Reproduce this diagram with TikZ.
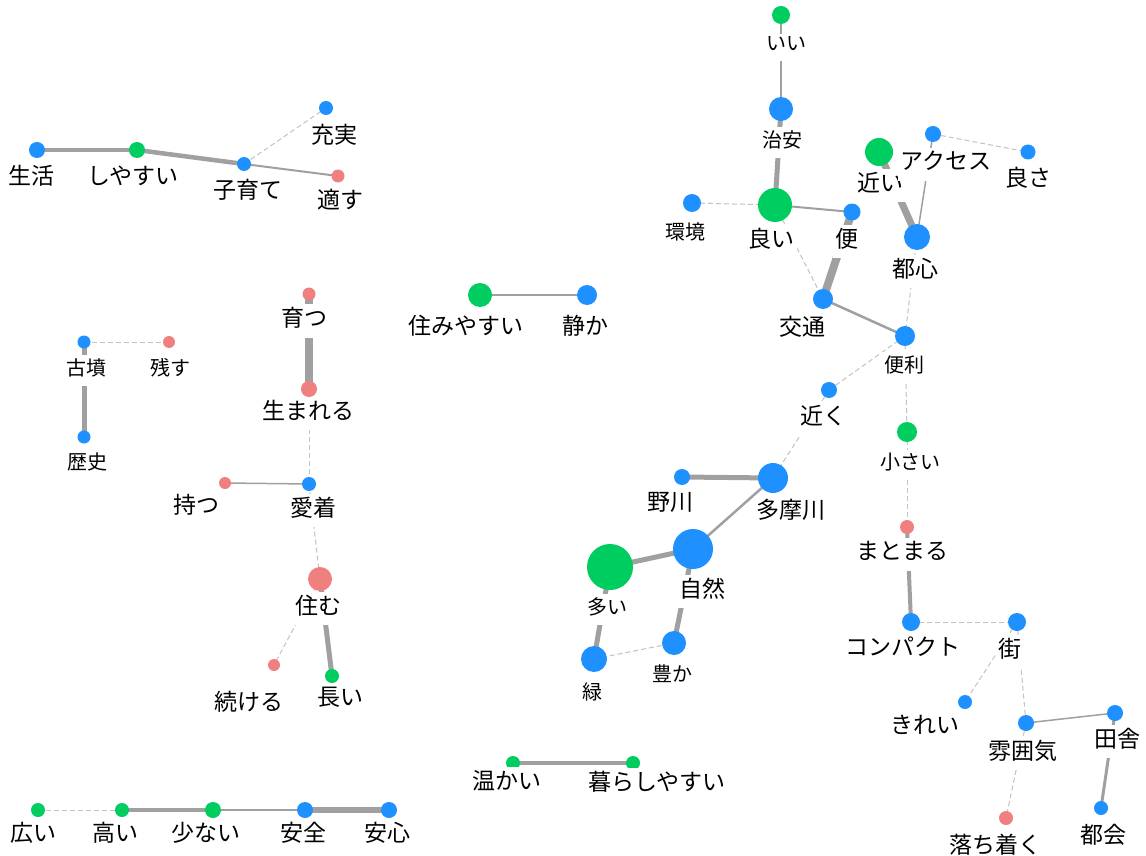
\documentclass[tikz,border=0pt]{standalone}
\usepackage{fontspec}
\setmainfont{Noto Sans CJK JP}
\definecolor{nblue}{RGB}{30,144,255}
\definecolor{ngreen}{RGB}{0,205,96}
\definecolor{nred}{RGB}{240,128,128}
\definecolor{egray}{RGB}{160,160,160}
\definecolor{dgray}{RGB}{195,195,195}
\pgfdeclarelayer{bg}
\pgfdeclarelayer{paper}
\pgfsetlayers{paper,bg,main}
\tikzset{
  dot/.style={circle, inner sep=0pt, draw=none, minimum size=#1},
  B/.style={dot=#1, fill=nblue},
  G/.style={dot=#1, fill=ngreen},
  R/.style={dot=#1, fill=nred},
  lab/.style={fill=white, inner xsep=3pt, inner ysep=3pt, text depth=7.8pt, yshift=-2.5pt, font=\fontsize{23}{23}\selectfont},
  slab/.style={fill=white, inner xsep=3pt, inner ysep=3pt, text depth=7.4pt, yshift=-2.5pt, font=\fontsize{20}{20}\selectfont},
  ln/.style={draw=egray, line width=#1},
  dl/.style={draw=dgray, line width=1pt, dash pattern=on 5pt off 3pt},
}
\begin{document}
\begin{tikzpicture}[x=1pt,y=-1pt]
\begin{pgfonlayer}{paper}
\fill[white] (0,0) rectangle (1146,856);
\end{pgfonlayer}
\useasboundingbox (0,0) rectangle (1146,856);
% ---- circles ----
\node[B=16] (shenghuo) at (37,150) {};
\node[G=16] (shiyasui) at (137,150) {};
\node[B=14] (kosodate) at (244,164) {};
\node[B=14] (juujitsu) at (326,108) {};
\node[R=13] (tekisu) at (338,176) {};

\node[G=18] (ii) at (781,15) {};
\node[B=24] (chian) at (781,109) {};
\node[G=34] (yoi) at (775,205) {};
\node[B=18] (kankyo) at (692,203) {};
\node[B=17] (ben) at (852,212) {};
\node[G=28] (chikai) at (879,152) {};
\node[B=16] (access) at (933,134) {};
\node[B=15] (yosa) at (1028,152) {};
\node[B=26] (toshin) at (917,237) {};
\node[B=20] (koutsuu) at (823,299) {};
\node[B=20] (benri) at (905,336) {};
\node[B=16] (chikaku) at (829,390) {};
\node[G=20] (chiisai) at (907,432) {};
\node[R=14] (matomaru) at (907,527) {};
\node[B=30] (tamagawa) at (773,478) {};
\node[B=16] (nogawa) at (682,477) {};
\node[B=40] (shizen) at (693,549) {};
\node[G=46] (ooi) at (610,567) {};
\node[B=26] (midori) at (594,659) {};
\node[B=24] (yutaka) at (674,643) {};
\node[B=18] (compact) at (911,622) {};
\node[B=18] (machi) at (1017,622) {};
\node[B=14] (kirei) at (965,702) {};
\node[B=16] (funiki) at (1026,723) {};
\node[B=16] (inaka) at (1115,713) {};
\node[B=14] (tokai) at (1101,808) {};
\node[R=14] (ochitsuku) at (1006,818) {};

\node[B=13] (kofun) at (84,342) {};
\node[R=12] (nokosu) at (169,342) {};
\node[B=13] (rekishi) at (84,437) {};

\node[R=13] (sodatsu) at (309,294) {};
\node[R=16] (umareru) at (309,389) {};
\node[R=12] (motsu) at (225,483) {};
\node[B=14] (aichaku) at (309,484) {};
\node[R=24] (sumu) at (320,579) {};
\node[R=12] (tsuzukeru) at (274,665) {};
\node[G=14] (nagai) at (332,676) {};

\node[G=24] (sumiyasui) at (480,295) {};
\node[B=20] (shizuka) at (587,295) {};

\node[G=14] (atatakai) at (513,763) {};
\node[G=14] (kurashi) at (633,763) {};

\node[G=14] (hiroi) at (38,810) {};
\node[G=14] (takai) at (122,810) {};
\node[G=16] (sukunai) at (213,810) {};
\node[B=16] (anzen) at (305,810) {};
\node[B=16] (anshin) at (389,810) {};

% ---- labels ----
\node[lab] (shenghuoL) at (32,176) {生活};
\node[lab] (shiyasuiL) at (133,177) {しやすい};
\node[lab] (kosodateL) at (248,190) {子育て};
\node[lab] (juujitsuL) at (334,135) {充実};
\node[lab] (tekisuL) at (340,200) {適す};

\node[slab] (iiL) at (786,45) {いい};
\node[slab] (chianL) at (782,140) {治安};
\node[lab] (yoiL) at (771,239) {良い};
\node[slab] (kankyoL) at (685,232) {環境};
\node[lab] (benL) at (847,239) {便};
\node[lab] (chikaiL) at (880,183) {近い};
\node[lab] (accessL) at (946,162) {アクセス};
\node[lab] (yosaL) at (1028,178) {良さ};
\node[lab] (toshinL) at (915,269) {都心};
\node[lab] (koutsuuL) at (802,327) {交通};
\node[slab] (benriL) at (904,365) {便利};
\node[lab] (chikakuL) at (823,416) {近く};
\node[slab] (chiisaiL) at (910,462) {小さい};
\node[lab] (matomaruL) at (902,552) {まとまる};
\node[lab] (tamagawaL) at (791,510) {多摩川};
\node[lab] (nogawaL) at (670,503) {野川};
\node[lab] (shizenL) at (702,589) {自然};
\node[slab] (ooiL) at (607,607) {多い};
\node[slab] (midoriL) at (592,692) {緑};
\node[slab] (yutakaL) at (672,674) {豊か};
\node[lab] (compactL) at (903,648) {コンパクト};
\node[lab] (machiL) at (1010,649) {街};
\node[lab] (kireiL) at (925,726) {きれい};
\node[lab] (funikiL) at (1023,751) {雰囲気};
\node[lab] (inakaL) at (1117,739) {田舎};
\node[lab] (tokaiL) at (1103,835) {都会};
\node[lab] (ochitsukuL) at (995,845) {落ち着く};

\node[slab] (kofunL) at (86,368) {古墳};
\node[slab] (nokosuL) at (170,368) {残す};
\node[slab] (rekishiL) at (87,462) {歴史};

\node[lab] (sodatsuL) at (304,318.5) {育つ};
\node[lab] (umareruL) at (308,411) {生まれる};
\node[lab] (motsuL) at (196,505) {持つ};
\node[lab] (aichakuL) at (313,508) {愛着};
\node[lab] (sumuL) at (318,606) {住む};
\node[lab] (tsuzukeruL) at (249,702) {続ける};
\node[lab] (nagaiL) at (340,698) {長い};

\node[lab] (sumiyasuiL) at (466,326) {住みやすい};
\node[lab] (shizukaL) at (585,326) {静か};

\node[lab] (atatakaiL) at (507,781) {温かい};
\node[lab] (kurashiL) at (657,782) {暮らしやすい};

\node[lab] (hiroiL) at (33,833) {広い};
\node[lab] (takaiL) at (115,833) {高い};
\node[lab] (sukunaiL) at (206,833) {少ない};
\node[lab] (anzenL) at (303,833) {安全};
\node[lab] (anshinL) at (387,833) {安心};

% ---- edges ----
\begin{pgfonlayer}{bg}
\draw[ln=4] (shenghuo.center) -- (shiyasui.center);
\draw[ln=4.5] (shiyasui.center) -- (kosodate.center);
\draw[ln=2] (kosodate.center) -- (tekisu.center);
\draw[dl] (kosodate.center) -- (juujitsu.center);

\draw[ln=2.5] (ii.center) -- (chian.center);
\draw[ln=5] (chian.center) -- (yoi.center);
\draw[dl] (kankyo.center) -- (yoi.center);
\draw[ln=2] (yoi.center) -- (ben.center);
\draw[dl] (yoi.center) -- (koutsuu.center);
\draw[ln=8] (ben.center) -- (koutsuu.center);
\draw[ln=7] (chikai.center) -- (toshin.center);
\draw[dl] (access.center) -- (yosa.center);
\draw[ln=1.5] (access.center) -- (toshin.center);
\draw[dl] (toshin.center) -- (benri.center);
\draw[ln=2.5] (koutsuu.center) -- (benri.center);
\draw[dl] (benri.center) -- (chikaku.center);
\draw[dl] (benri.center) -- (chiisai.center);
\draw[dl] (chiisai.center) -- (matomaru.center);
\draw[dl] (chikaku.center) -- (tamagawa.center);
\draw[ln=5] (nogawa.center) -- (tamagawa.center);
\draw[ln=2.5] (tamagawa.center) -- (shizen.center);
\draw[ln=5] (shizen.center) -- (ooi.center);
\draw[ln=5] (ooi.center) -- (midori.center);
\draw[ln=5] (shizen.center) -- (yutaka.center);
\draw[dl] (midori.center) -- (yutaka.center);
\draw[ln=4] (matomaru.center) -- (compact.center);
\draw[dl] (compact.center) -- (machi.center);
\draw[dl] (machi.center) -- (kirei.center);
\draw[dl] (machi.center) -- (funiki.center);
\draw[ln=1.5] (funiki.center) -- (inaka.center);
\draw[ln=3] (inaka.center) -- (tokai.center);
\draw[dl] (funiki.center) -- (ochitsuku.center);

\draw[dl] (kofun.center) -- (nokosu.center);
\draw[ln=5] (kofun.center) -- (rekishi.center);

\draw[ln=8] (sodatsu.center) -- (umareru.center);
\draw[dl] (umareru.center) -- (aichaku.center);
\draw[ln=1.5] (motsu.center) -- (aichaku.center);
\draw[dl] (aichaku.center) -- (sumu.center);
\draw[dl] (sumu.center) -- (tsuzukeru.center);
\draw[ln=5] (sumu.center) -- (nagai.center);

\draw[ln=2.5] (sumiyasui.center) -- (shizuka.center);
\draw[ln=4] (atatakai.center) -- (kurashi.center);

\draw[dl] (hiroi.center) -- (takai.center);
\draw[ln=4] (takai.center) -- (sukunai.center);
\draw[ln=1.5] (sukunai.center) -- (anzen.center);
\draw[ln=6] (anzen.center) -- (anshin.center);
\end{pgfonlayer}
\end{tikzpicture}
\end{document}
